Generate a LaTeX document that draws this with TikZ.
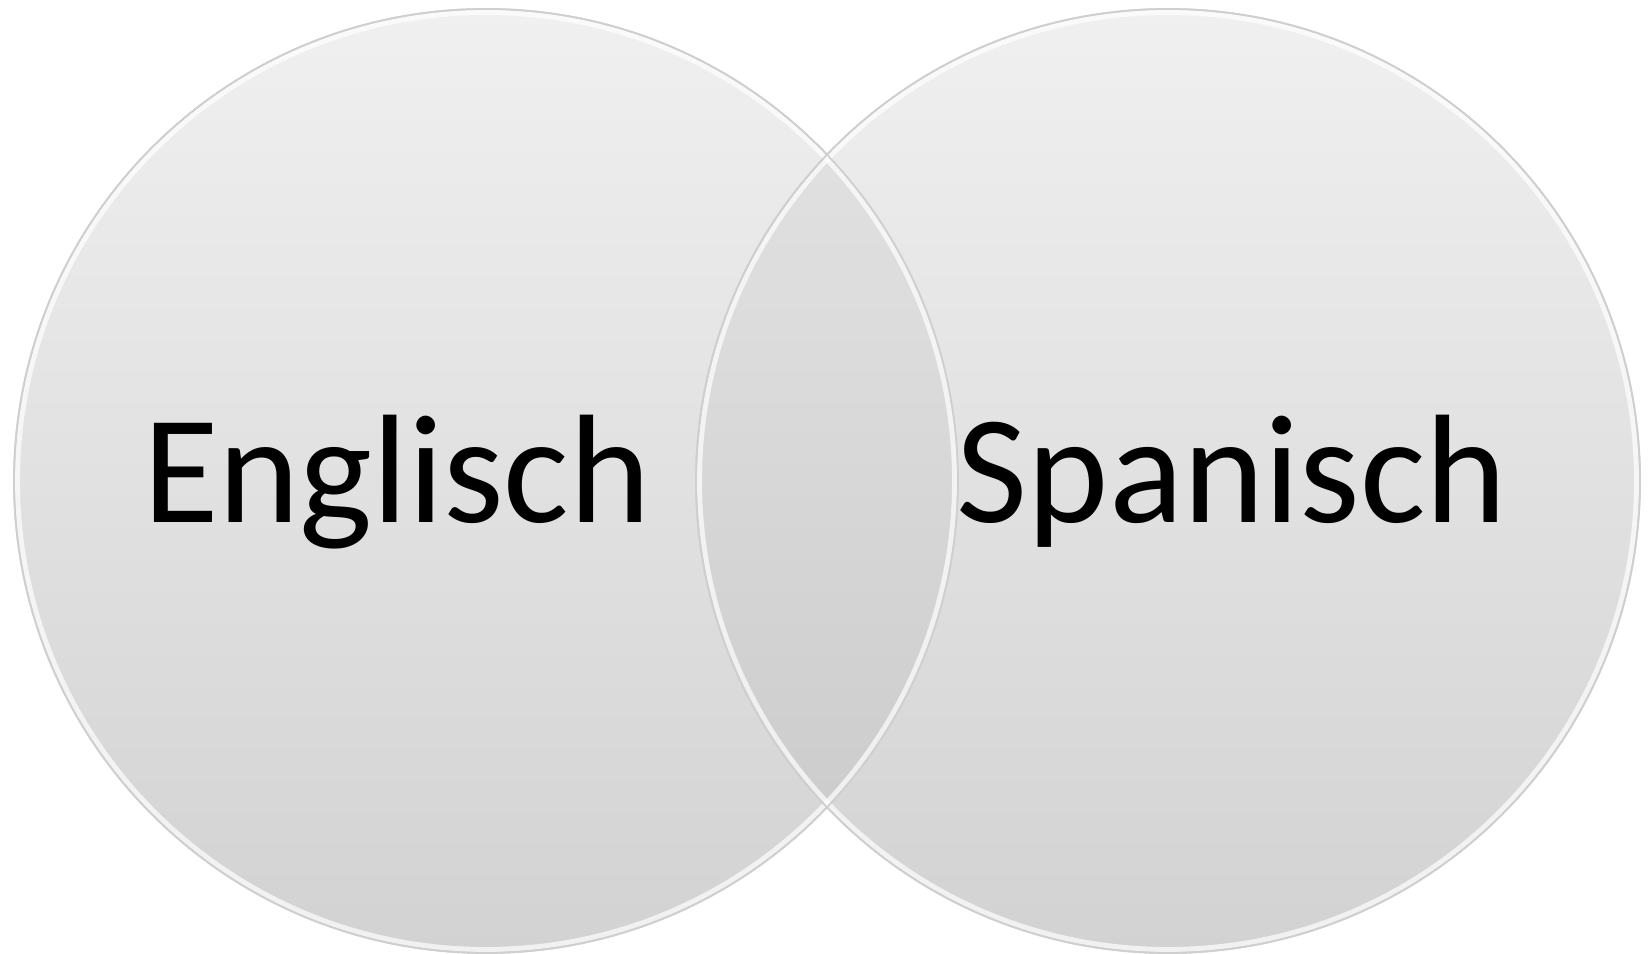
\documentclass[tikz,border=0pt]{standalone}
\usepackage{fontspec}
\setmainfont{Carlito}
\usepackage{xcolor}

\definecolor{circletop}{HTML}{F0F0F0}
\definecolor{circlebottom}{HTML}{D2D2D2}
\definecolor{circleedge}{HTML}{CFCFCF}

\begin{document}
\begin{tikzpicture}[
    font=\fontsize{44}{50}\selectfont,
    setcircle/.style={circle, minimum size=9.44cm, inner sep=0pt,
        top color=circletop, bottom color=circlebottom, draw=circleedge, line width=0.5pt},
]

% Canvas
\useasboundingbox (0,0) rectangle (16.51,9.54);

% Circles
\node[setcircle] (english) at (4.86,4.73) {};
\node[setcircle] (spanish) at (11.68,4.73) {};

% Overlap
\begin{scope}
    \clip (english.center) circle (4.72);
    \fill[black, opacity=0.045] (spanish.center) circle (4.72);
\end{scope}

% Highlight rims
\draw[white, line width=1.4pt, opacity=0.7] (english.center) circle (4.685);
\draw[white, line width=1.4pt, opacity=0.7] (spanish.center) circle (4.685);
\draw[circleedge, line width=0.5pt] (english.center) circle (4.72);
\draw[circleedge, line width=0.5pt] (spanish.center) circle (4.72);

% Labels
\node[anchor=base, inner sep=0pt] (englishlabel) at (3.97,4.31) {Englisch};
\node[anchor=base, inner sep=0pt] (spanishlabel) at (12.32,4.31) {Spanisch};

\end{tikzpicture}
\end{document}
